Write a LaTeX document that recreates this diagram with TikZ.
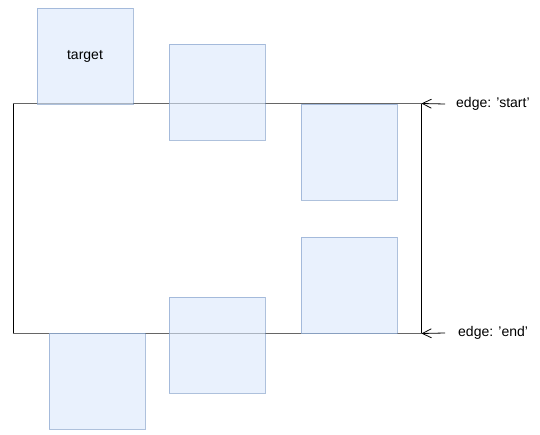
\documentclass[tikz,border=0pt]{standalone}
\usepackage{fontspec}
\setmainfont{Liberation Sans}
\usepackage{tikz}
\usetikzlibrary{arrows.meta}
\definecolor{boxfill}{HTML}{DAE8FC}
\definecolor{boxline}{HTML}{6C8EBF}
\definecolor{edgegray}{HTML}{666666}
\tikzstyle{block} = [rectangle, draw=boxline, draw opacity=0.55, fill=boxfill, fill opacity=0.6, text opacity=1,
    minimum width=96pt, minimum height=96pt, inner sep=0pt, font=\fontsize{14}{16}\selectfont]
\tikzstyle{line} = [draw, line width=0.8pt, -{Straight Barb[length=9pt,width=9pt]}]
\tikzstyle{edgelabel} = [anchor=west, inner sep=0pt, font=\fontsize{14}{16}\selectfont]

\begin{document}
\begin{tikzpicture}[x=1pt, y=-1pt]
  \useasboundingbox (0,0) rectangle (540,435);
  % frame
  \node [draw, line width=1pt, minimum width=408pt, minimum height=229pt, inner sep=0pt](frame) at (217,218.5) {};
  \draw [edgegray, line width=1.4pt] (frame.north west) -- (frame.north east);
  \draw [edgegray, line width=1.4pt] (frame.south west) -- (frame.south east);
  % nodes
  \node [block](target) at (85,56.5) {target};
  \node [block](uppermid) at (217,92.5) {};
  \node [block](upperright) at (349,152.5) {};
  \node [block, below of = upperright, node distance = 133pt](lowerright) {};
  \node [block](lowermid) at (217,345) {};
  \node [block](lowerleft) at (97,381) {};
  % edges
  \coordinate (starttail) at (445,104);
  \coordinate (endtail) at (445,333);
  \node [edgelabel](start) at (456,104) {edge: 'start'};
  \node [edgelabel](end) at (458,333) {edge: 'end'};
  \path [line] (starttail) -- (frame.north east);
  \path [line] (endtail) -- (frame.south east);
\end{tikzpicture}
\end{document}
